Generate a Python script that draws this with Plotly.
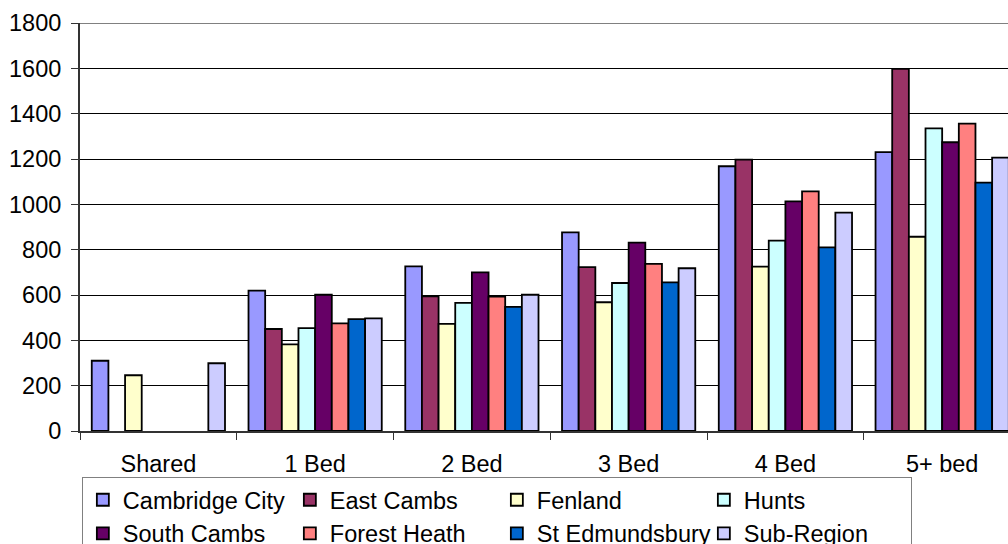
import plotly.graph_objects as go

# Categories (dwelling size) and districts
categories = ["Shared", "1 Bed", "2 Bed", "3 Bed", "4 Bed", "5+ bed"]
districts = ["Cambridge City", "East Cambs", "Fenland", "Hunts",
             "South Cambs", "Forest Heath", "St Edmundsbury", "Sub-Region"]

# Values per district, one per category (None = no figure)
cambridge_city = [310, 619, 726, 876, 1168, 1230]
east_cambs = [None, 450, 594, 723, 1197, 1598]
fenland = [246, 382, 473, 568, 725, 857]
hunts = [None, 454, 565, 653, 840, 1335]
south_cambs = [None, 601, 700, 831, 1013, 1274]
forest_heath = [None, 475, 593, 737, 1057, 1356]
st_edmundsbury = [None, 494, 548, 656, 810, 1096]
sub_region = [299, 497, 601, 718, 963, 1206]

series = [cambridge_city, east_cambs, fenland, hunts,
          south_cambs, forest_heath, st_edmundsbury, sub_region]
colors = ["#9999FF", "#993366", "#FFFFCC", "#CCFFFF",
          "#660066", "#FF8080", "#0066CC", "#CCCCFF"]

FONT = "Liberation Sans, Arial, sans-serif"
FSIZE = 23.5

fig = go.Figure()
for name, vals, col in zip(districts, series, colors):
    fig.add_trace(go.Bar(
        x=categories, y=vals, name=name,
        marker=dict(color=col, line=dict(color="black", width=1.8)),
        hoverinfo="skip",
    ))

fig.update_layout(
    width=1008, height=544,
    margin=dict(l=80, r=0, t=23, b=113, autoexpand=False),
    paper_bgcolor="white", plot_bgcolor="white",
    barmode="group", bargap=0.15, bargroupgap=0,
    font=dict(family=FONT, size=FSIZE, color="black"),
    showlegend=True,
    legend=dict(
        orientation="h",
        x=0.002, xanchor="left", xref="paper",
        y=-0.1127, yanchor="top", yref="paper",
        entrywidth=162, entrywidthmode="pixels",
        bordercolor="#808080", borderwidth=1,
        bgcolor="white",
        font=dict(family=FONT, size=FSIZE, color="black"),
        traceorder="normal",
    ),
    xaxis=dict(
        type="category",
        range=[-0.5, 5.42],
        showgrid=False,
        showline=True, linecolor="#333333", linewidth=2,
        ticks="outside", tickson="boundaries", ticklen=7,
        tickcolor="#333333", tickwidth=1,
        ticklabelstandoff=11,
        tickfont=dict(family=FONT, size=FSIZE, color="black"),
    ),
    yaxis=dict(
        range=[0, 1800], dtick=200,
        showgrid=True, gridcolor="black", gridwidth=1,
        zeroline=False,
        showline=True, linecolor="#333333", linewidth=2,
        ticks="outside", ticklen=7, tickcolor="#333333", tickwidth=1,
        ticklabelstandoff=5,
        tickfont=dict(family=FONT, size=FSIZE, color="black"),
    ),
    shapes=[dict(type="line", xref="paper", yref="y", x0=0, x1=1,
                 y0=1800, y1=1800, line=dict(color="#808080", width=2),
                 layer="above")],
)

fig.write_html("out.html")
